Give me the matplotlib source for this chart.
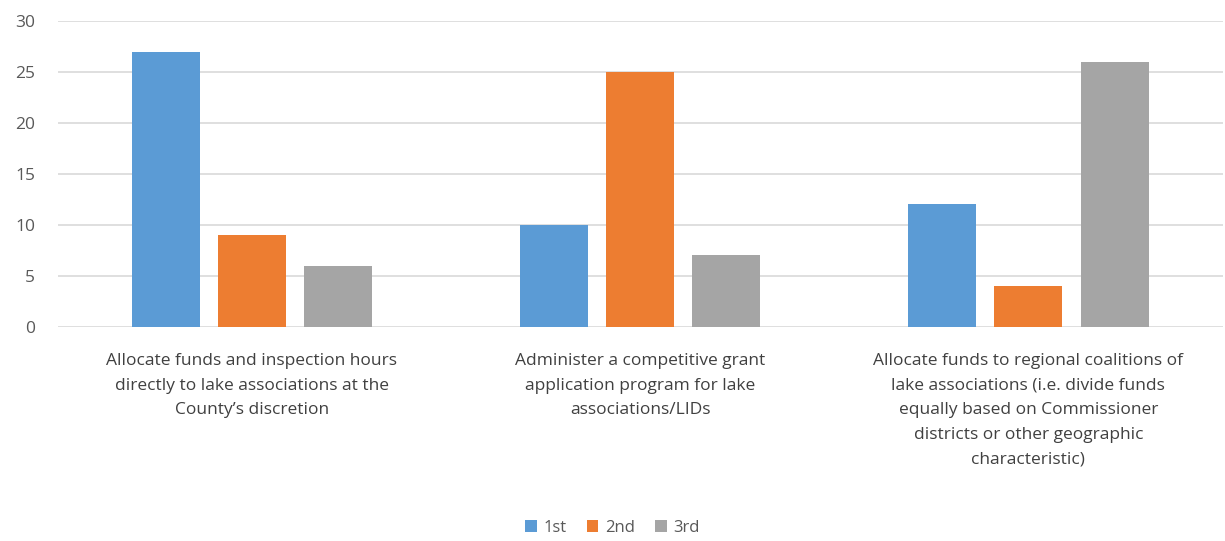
import numpy as np
import matplotlib

matplotlib.use('Agg')
import matplotlib.pyplot as plt

categories = [
    'Allocate funds and inspection hours\ndirectly to lake associations at the\nCounty\u2019s discretion',
    'Administer a competitive grant\napplication program for lake\nassociations/LIDs',
    'Allocate funds to regional coalitions of\nlake associations (i.e. divide funds\nequally based on Commissioner\ndistricts or other geographic\ncharacteristic)',
]
series_names = ['1st', '2nd', '3rd']
first = [27, 10, 12]
second = [9, 25, 4]
third = [6, 7, 26]
colors = ['#5b9bd5', '#ed7d31', '#a5a5a5']

plt.rcParams['font.family'] = ['Open Sans', 'DejaVu Sans']

fig = plt.figure(figsize=(12.25, 5.41), dpi=100)
ax = fig.add_axes([0.047, 0.396, 0.951, 0.565])

x = np.arange(len(categories))
width = 0.175
offset = 0.222
for i, (vals, name) in enumerate(zip([first, second, third], series_names)):
    ax.bar(x + (i - 1) * offset, vals, width, color=colors[i], label=name, zorder=3)

ax.set_xlim(-0.5, 2.5)
ax.set_ylim(0, 30)
ax.set_yticks(range(0, 31, 5))
ax.yaxis.grid(True, color='#d9d9d9', linewidth=1.2, zorder=0)
for s in ax.spines.values():
    s.set_visible(False)
ax.tick_params(axis='y', length=0, labelsize=12.5, labelcolor='#595959', pad=16)
ax.set_xticks(x)
ax.set_xticklabels(categories, fontsize=12.5, color='#404040', linespacing=1.72, va='top')
ax.tick_params(axis='x', length=0, pad=19)

fig.legend(loc='lower center', bbox_to_anchor=(0.5, -0.018), ncol=3, frameon=False,
           fontsize=12, handlelength=0.7, handleheight=0.7, handletextpad=0.4,
           columnspacing=1.2, labelcolor='#595959')

plt.savefig('out.png', dpi=100)
